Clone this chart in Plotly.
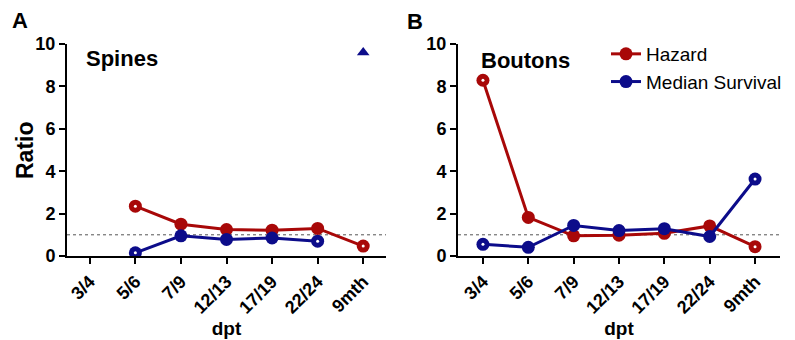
import plotly.graph_objects as go

# Time points (days post treatment) shared by both panels
dpt = ["3/4", "5/6", "7/9", "12/13", "17/19", "22/24", "9mth"]

# Panel A: spines
spines_hazard = [None, 2.35, 1.50, 1.25, 1.22, 1.30, 0.47]
spines_median = [None, 0.15, 0.95, 0.78, 0.85, 0.70, None]
spines_offscale = [None, None, None, None, None, None, 9.6]  # median survival beyond axis

# Panel B: boutons
boutons_hazard = [8.29, 1.82, 0.95, 0.98, 1.07, 1.42, 0.44]
boutons_median = [0.55, 0.41, 1.44, 1.20, 1.29, 0.92, 3.63]

y_ticks = [0, 2, 4, 6, 8, 10]

RED = "#A80808"
BLUE = "#0C0C8A"
FONT = "Liberation Sans, Arial, sans-serif"
W, H = 795, 340


def endpoints(vals):
    idx = [i for i, v in enumerate(vals) if v is not None]
    out = [None] * len(vals)
    if idx:
        out[idx[0]] = vals[idx[0]]
        out[idx[-1]] = vals[idx[-1]]
    return out


fig = go.Figure()


def add_series(vals, color, name, xa, ya, show):
    fig.add_trace(go.Scatter(
        x=dpt, y=vals, mode="lines+markers", name=name,
        line=dict(color=color, width=3),
        marker=dict(color=color, size=13, symbol="circle"),
        xaxis=xa, yaxis=ya, showlegend=show, connectgaps=False,
    ))
    fig.add_trace(go.Scatter(
        x=dpt, y=endpoints(vals), mode="markers",
        marker=dict(color="white", size=3),
        xaxis=xa, yaxis=ya, showlegend=False, hoverinfo="skip",
    ))


add_series(spines_hazard, RED, "Hazard", "x", "y", False)
add_series(spines_median, BLUE, "Median Survival", "x", "y", False)
fig.add_trace(go.Scatter(
    x=dpt, y=spines_offscale, mode="markers",
    marker=dict(color=BLUE, size=11, symbol="triangle-up"),
    xaxis="x", yaxis="y", showlegend=False,
))
add_series(boutons_hazard, RED, "Hazard", "x2", "y2", True)
add_series(boutons_median, BLUE, "Median Survival", "x2", "y2", True)

y_dom = [1 - 256 / H, 1 - 44 / H]

axis_common = dict(
    showline=True, linecolor="black", linewidth=2,
    ticks="outside", tickwidth=2, ticklen=6, tickcolor="black",
    showgrid=False, zeroline=False, automargin=False,
    tickfont=dict(family=FONT, size=18, color="black", weight="bold"),
)

xcommon = dict(axis_common, type="category", categoryorder="array",
               categoryarray=dpt, tickangle=-45, range=[-0.5, 6.5],
               title=dict(text="dpt", standoff=3,
                          font=dict(family=FONT, size=19, color="black", weight="bold")))
ycommon = dict(axis_common, range=[0, 10], tickvals=y_ticks, domain=y_dom)

fig.update_layout(
    width=W, height=H,
    margin=dict(l=0, r=0, t=0, b=0, autoexpand=False),
    paper_bgcolor="white", plot_bgcolor="white",
    xaxis=dict(xcommon, domain=[67 / W, 386 / W], anchor="y"),
    yaxis=dict(ycommon, anchor="x"),
    xaxis2=dict(xcommon, domain=[458 / W, 780 / W], anchor="y2", range=[-0.55, 6.55]),
    yaxis2=dict(ycommon, anchor="x2"),
    legend=dict(x=606 / W, y=1 - 35 / H, xanchor="left", yanchor="top",
                font=dict(family=FONT, size=19, color="black"),
                bgcolor="rgba(0,0,0,0)", tracegroupgap=0, itemwidth=30),
    showlegend=True,
)

# Reference line at ratio = 1
for xr, yr in (("x domain", "y"), ("x2 domain", "y2")):
    fig.add_shape(type="line", xref=xr, yref=yr, x0=0, x1=1, y0=1, y1=1,
                  line=dict(color="#555555", width=1, dash="dot"), layer="below")

ann_font = dict(family=FONT, color="black", weight="bold")
# Shared y-axis label, placed next to the left panel's tick labels
fig.add_annotation(text="Ratio", x=25 / W, y=1 - 150 / H, xref="paper", yref="paper",
                   showarrow=False, textangle=-90, xanchor="center", yanchor="middle",
                   font=dict(ann_font, size=23))
fig.add_annotation(text="A", x=10 / W, y=1 - 20 / H, xref="paper", yref="paper",
                   showarrow=False, xanchor="left", yanchor="middle",
                   font=dict(ann_font, size=22))
fig.add_annotation(text="B", x=405 / W, y=1 - 22 / H, xref="paper", yref="paper",
                   showarrow=False, xanchor="left", yanchor="middle",
                   font=dict(ann_font, size=22))
fig.add_annotation(text="Spines", x=84 / W, y=1 - 58 / H, xref="paper", yref="paper",
                   showarrow=False, xanchor="left", yanchor="middle",
                   font=dict(ann_font, size=22))
fig.add_annotation(text="Boutons", x=479 / W, y=1 - 60 / H, xref="paper", yref="paper",
                   showarrow=False, xanchor="left", yanchor="middle",
                   font=dict(ann_font, size=22))

fig.write_html("out.html")
